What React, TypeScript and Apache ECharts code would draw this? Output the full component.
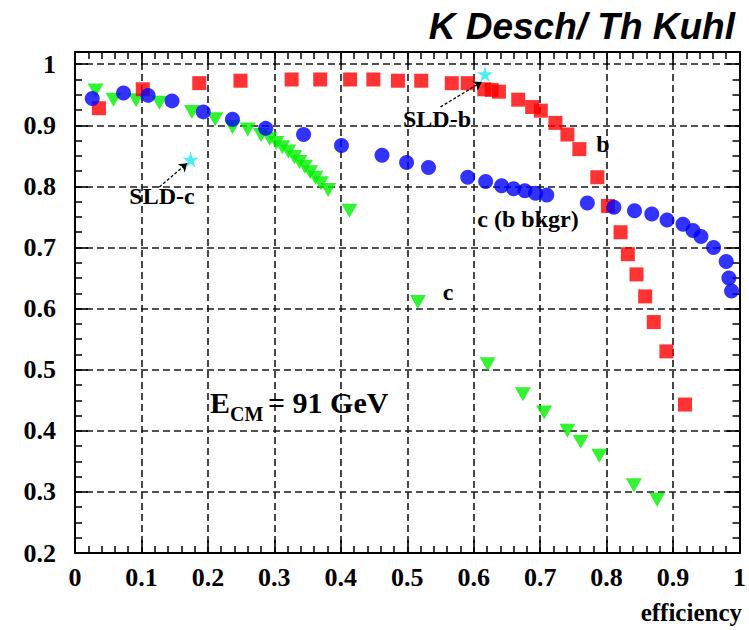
import React, { useEffect, useRef } from "react";
import * as echarts from "echarts";

// b-tag (red squares)
const bEffX = [0.036, 0.102, 0.187, 0.249, 0.326, 0.369, 0.414, 0.449, 0.486, 0.521, 0.567, 0.591, 0.616, 0.627, 0.638, 0.667, 0.688, 0.701, 0.723, 0.741, 0.759, 0.786, 0.802, 0.821, 0.832, 0.845, 0.858, 0.871, 0.890, 0.918];
const bPurY = [0.928, 0.959, 0.969, 0.973, 0.975, 0.975, 0.975, 0.975, 0.973, 0.973, 0.969, 0.969, 0.959, 0.958, 0.955, 0.942, 0.930, 0.924, 0.904, 0.885, 0.861, 0.815, 0.768, 0.725, 0.689, 0.656, 0.620, 0.578, 0.530, 0.443];

// c-tag with b background only (blue circles)
const cbEffX = [0.026, 0.073, 0.110, 0.146, 0.193, 0.237, 0.287, 0.344, 0.401, 0.462, 0.499, 0.532, 0.591, 0.618, 0.642, 0.660, 0.677, 0.693, 0.710, 0.771, 0.811, 0.842, 0.868, 0.891, 0.915, 0.930, 0.942, 0.961, 0.980, 0.984, 0.988];
const cbPurY = [0.944, 0.953, 0.949, 0.940, 0.922, 0.910, 0.895, 0.885, 0.867, 0.851, 0.839, 0.831, 0.815, 0.808, 0.801, 0.796, 0.793, 0.789, 0.786, 0.773, 0.766, 0.760, 0.755, 0.745, 0.738, 0.728, 0.718, 0.700, 0.677, 0.650, 0.629];

// c-tag (green triangles)
const cEffX = [0.031, 0.058, 0.092, 0.127, 0.176, 0.211, 0.237, 0.260, 0.280, 0.293, 0.303, 0.312, 0.321, 0.330, 0.338, 0.346, 0.354, 0.362, 0.370, 0.381, 0.413, 0.516, 0.621, 0.674, 0.706, 0.741, 0.761, 0.789, 0.841, 0.876];
const cPurY = [0.957, 0.942, 0.941, 0.937, 0.922, 0.910, 0.897, 0.893, 0.884, 0.878, 0.871, 0.864, 0.857, 0.848, 0.840, 0.832, 0.823, 0.814, 0.805, 0.794, 0.760, 0.611, 0.509, 0.460, 0.430, 0.400, 0.382, 0.359, 0.311, 0.287];

// SLD reference points (cyan stars)
const sldNames = ["SLD-c", "SLD-b"];
const sldX = [0.174, 0.617];
const sldY = [0.844, 0.984];

// annotation arrows: [from label, to star]
const arrowFrom = [[0.127, 0.799], [0.550, 0.930]];
const arrowTo = [[0.169, 0.838], [0.612, 0.971]];

const xTickLabels = ["0", "0.1", "0.2", "0.3", "0.4", "0.5", "0.6", "0.7", "0.8", "0.9", "1"];
const yTickLabels = ["0.2", "0.3", "0.4", "0.5", "0.6", "0.7", "0.8", "0.9", "1"];

const SERIF = '"Liberation Serif", "Times New Roman", serif';
const STAR = "path://M50,0 L61,35 L98,35 L68,57 L79,91 L50,70 L21,91 L32,57 L2,35 L39,35 Z";

const zip = (xs: number[], ys: number[]) => xs.map((x, i) => [x, ys[i]]);

export default function App() {
  const ref = useRef<HTMLDivElement>(null);
  useEffect(() => {
    if (!ref.current) return;
    const chart = echarts.init(ref.current, null, { renderer: "svg" });

    const axisLine = { show: true, onZero: false, lineStyle: { color: "#000", width: 2 } };
    const axisTick = { show: true, inside: true, length: 13, lineStyle: { color: "#000", width: 1.6 } };
    const labelStyle = { color: "#000", fontFamily: SERIF, fontWeight: "bold" as const, fontSize: 26 };
    const gridLine = { show: true, lineStyle: { color: "#1a1a1a", width: 1.6, type: [7, 4] as number[] } };

    const txt = (text: string, x: number, y: number, size: number, align = "center") => ({
      type: "text",
      x,
      y,
      z: 50,
      style: {
        text,
        fill: "#000",
        font: `bold ${size}px ${SERIF}`,
        textAlign: align,
        textVerticalAlign: "middle",
      },
    });

    chart.setOption({
      animation: false,
      backgroundColor: "#fff",
      grid: { left: 75, right: 7, top: 52, bottom: 77, containLabel: false },
      xAxis: [
        {
          type: "value",
          min: 0,
          max: 1,
          interval: 0.1,
          position: "bottom",
          axisLine,
          axisTick,
          minorTick: { show: true, splitNumber: 5, length: 7, lineStyle: { color: "#000", width: 1.5 } },
          axisLabel: {
            ...labelStyle,
            margin: 11,
            formatter: (v: number) => xTickLabels[Math.round(v * 10)] ?? "",
          },
          splitLine: gridLine,
        },
        {
          type: "value",
          min: 0,
          max: 1,
          interval: 0.1,
          position: "top",
          axisLine,
          axisTick,
          minorTick: { show: true, splitNumber: 5, length: 7, lineStyle: { color: "#000", width: 1.5 } },
          axisLabel: { show: false },
          splitLine: { show: false },
        },
      ],
      yAxis: [
        {
          type: "value",
          min: 0.2,
          max: 1.02,
          interval: 0.1,
          position: "left",
          axisLine,
          axisTick,
          minorTick: { show: true, splitNumber: 4, length: 7, lineStyle: { color: "#000", width: 1.5 } },
          axisLabel: {
            ...labelStyle,
            margin: 19,
            showMaxLabel: false,
            formatter: (v: number) => {
              const i = Math.round((v - 0.2) * 10);
              return Math.abs(v - (0.2 + i * 0.1)) < 1e-6 ? yTickLabels[i] ?? "" : "";
            },
          },
          splitLine: gridLine,
        },
        {
          type: "value",
          min: 0.2,
          max: 1.02,
          interval: 0.1,
          position: "right",
          axisLine,
          axisTick,
          minorTick: { show: true, splitNumber: 4, length: 7, lineStyle: { color: "#000", width: 1.5 } },
          axisLabel: { show: false },
          splitLine: { show: false },
        },
      ],
      series: [
        {
          name: "c",
          type: "scatter",
          data: zip(cEffX, cPurY),
          symbol: "triangle",
          symbolRotate: 180,
          symbolSize: [16, 14],
          itemStyle: { color: "#00f000" },
          z: 2,
        },
        {
          name: "b",
          type: "scatter",
          data: zip(bEffX, bPurY),
          symbol: "rect",
          symbolSize: 14,
          itemStyle: { color: "#ff0000" },
          z: 3,
        },
        {
          name: "c (b bkgr)",
          type: "scatter",
          data: zip(cbEffX, cbPurY),
          symbol: "circle",
          symbolSize: 15,
          itemStyle: { color: "#0000ff" },
          z: 4,
        },
        {
          name: "SLD",
          type: "scatter",
          data: sldNames.map((n, i) => ({ name: n, value: [sldX[i], sldY[i]] })),
          symbol: STAR,
          symbolSize: 16,
          itemStyle: { color: "#22e8f2" },
          z: 6,
        },
        {
          type: "lines",
          coordinateSystem: "cartesian2d",
          symbol: ["none", "arrow"],
          symbolSize: 8,
          silent: true,
          z: 5,
          lineStyle: { color: "#000", width: 1.3, type: [3, 2], opacity: 1, curveness: 0 },
          data: arrowFrom.map((f, i) => ({ coords: [f, arrowTo[i]] })),
        },
      ],
      graphic: [
        {
          type: "text",
          right: 14,
          top: 8,
          z: 50,
          style: {
            text: "K Desch/ Th Kuhl",
            fill: "#000",
            font: 'italic bold 37px "Liberation Sans", Arial, sans-serif',
          },
        },
        txt("SLD-c", 162, 196, 24),
        txt("SLD-b", 437, 119, 24),
        txt("b", 603, 144, 24),
        txt("c (b bkgr)", 528, 219, 24),
        txt("c", 448, 292, 24),
        txt("E", 210, 402, 30, "left"),
        txt("CM", 230, 414, 20, "left"),
        txt("= 91 GeV", 268, 402, 30, "left"),
        txt("efficiency", 742, 612, 25, "right"),
      ],
    });
    return () => chart.dispose();
  }, []);
  return (
    <div
      ref={ref}
      style={{ position: "absolute", left: 0, top: 0, width: 749, height: 630, background: "#fff" }}
    />
  );
}
